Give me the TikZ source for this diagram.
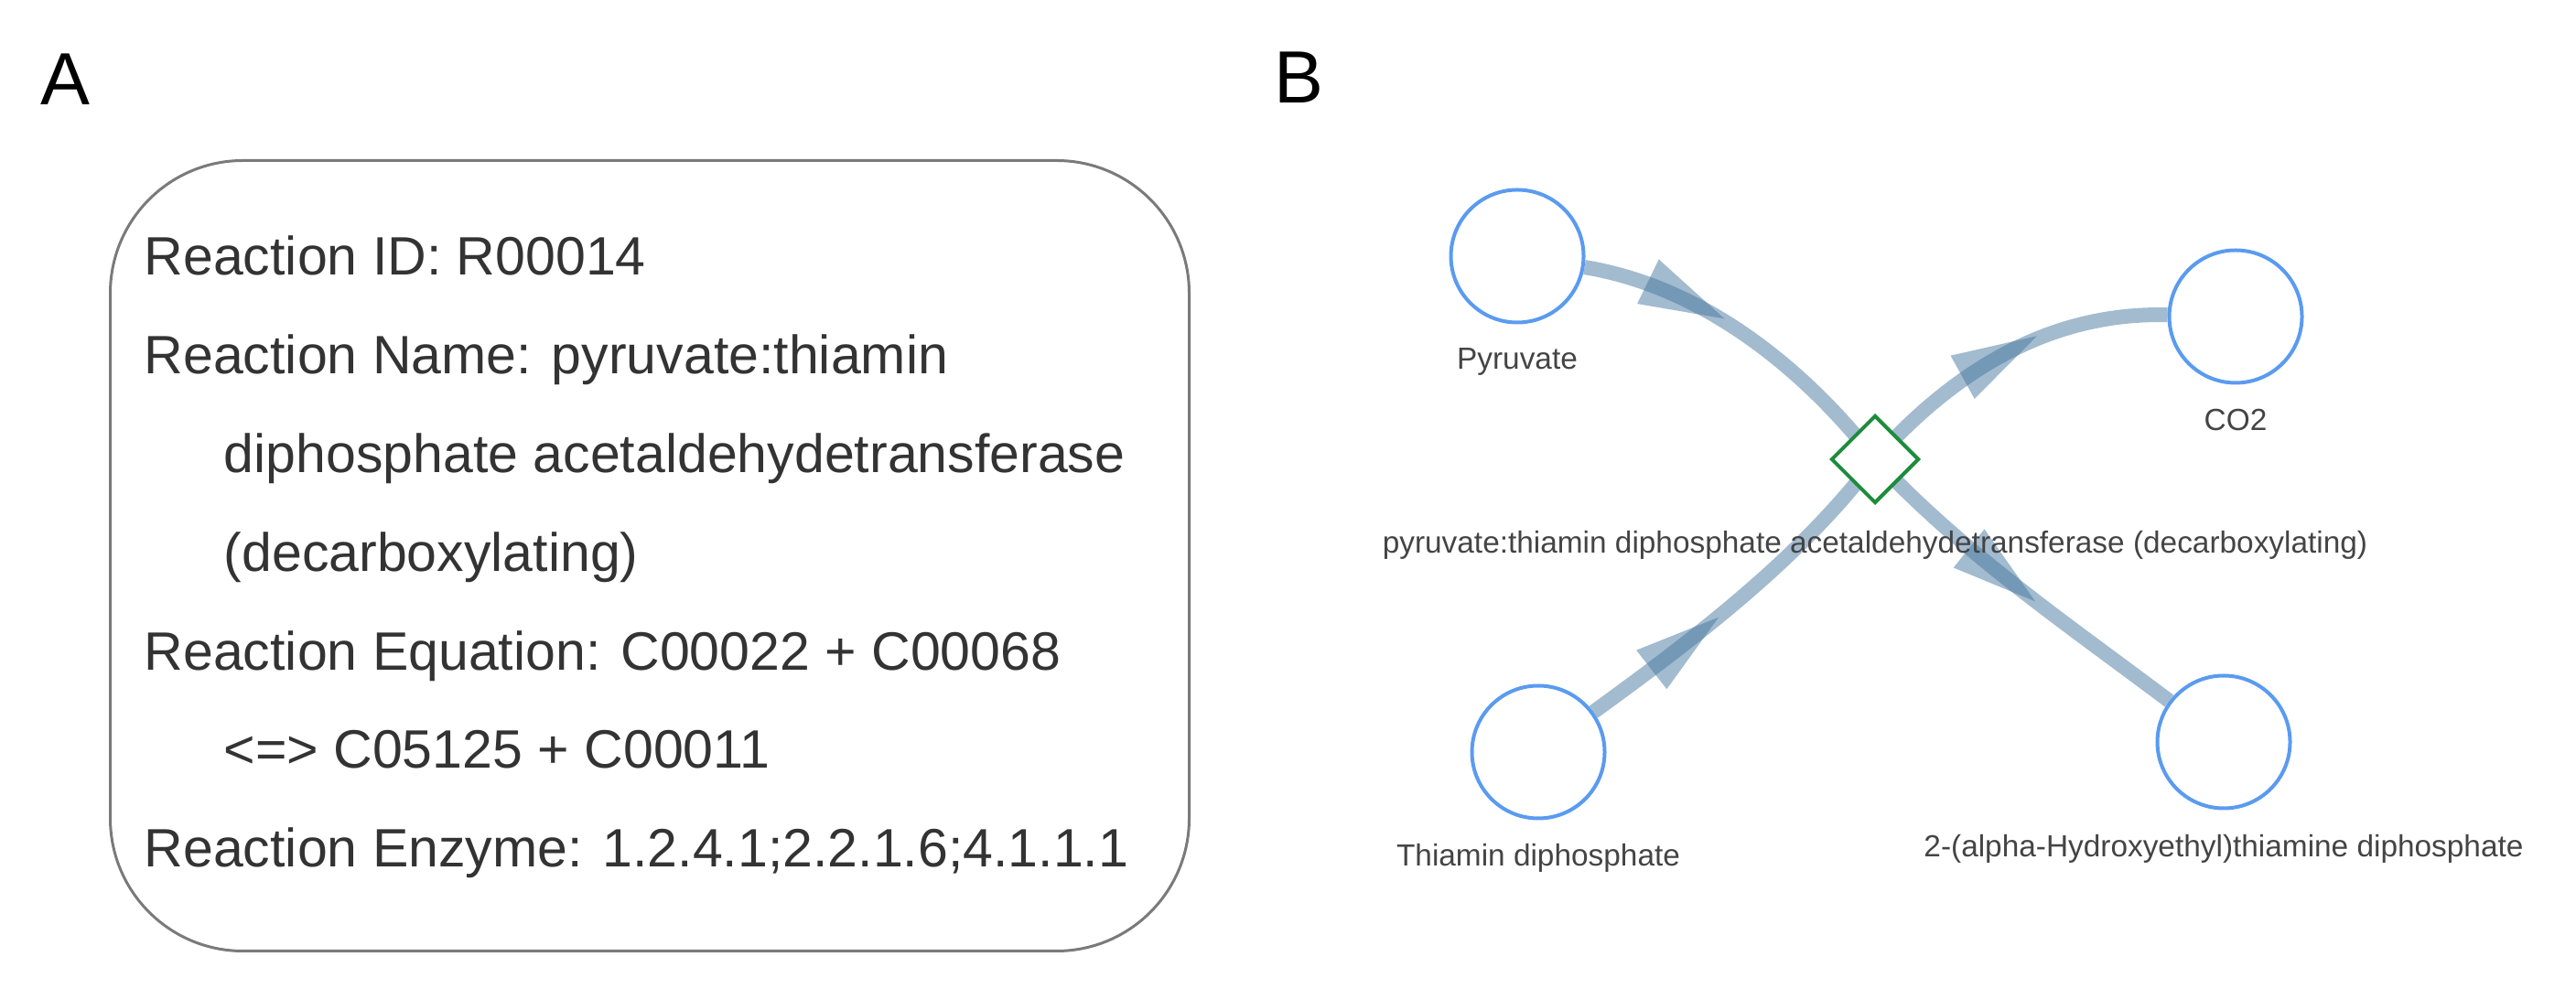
\documentclass[tikz,border=0pt]{standalone}
\usepackage{fontspec}
\setmainfont{Liberation Sans}
\usetikzlibrary{shapes.geometric,decorations.markings,backgrounds}

\definecolor{boxgray}{HTML}{7A7A7A}
\definecolor{txtgray}{HTML}{333333}
\definecolor{lblgray}{HTML}{444444}
\definecolor{cpdblue}{HTML}{5A9BF0}
\definecolor{rxngreen}{HTML}{1E8C3C}
\definecolor{fluxblue}{HTML}{47779F}

\tikzset{
  panel/.style={font=\fontsize{23}{28}\selectfont, anchor=base west, inner sep=0pt},
  infobox/.style={draw=boxgray, line width=0.03cm, rounded corners=1.45cm},
  infotext/.style={font=\fontsize{16.8}{20}\selectfont, text=txtgray, anchor=base west, inner sep=0pt},
  compound/.style={draw=cpdblue, line width=0.04cm, circle, minimum size=1.45cm, inner sep=0pt},
  reaction/.style={draw=rxngreen, line width=0.04cm, diamond, fill=white, minimum size=0.96cm, inner sep=0pt},
  lbl/.style={font=\fontsize{9.5}{11}\selectfont, text=lblgray, anchor=base, inner sep=0pt},
  flux/.style={draw=fluxblue, draw opacity=0.5, line width=0.16cm},
  fluxarrow/.style={postaction={decorate}, decoration={markings,
      mark=at position #1 with {\fill[fluxblue, fill opacity=0.5] (0.47,0) -- (-0.46,0.27) -- (-0.46,-0.27) -- cycle;}}}
}

\begin{document}
\begin{tikzpicture}
\useasboundingbox (0,0) rectangle (28.15,-10.81);

% panel letters
\node[panel] (pa) at (0.44,-1.15) {A};
\node[panel] (pb) at (13.92,-1.13) {B};

% A: reaction record
\draw[infobox] (1.205,-1.755) rectangle (12.995,-10.395);
\foreach \ind/\txt [count=\i] in {0/{Reaction ID: R00014},
    0/{Reaction Name: pyruvate:thiamin},
    1/{diphosphate acetaldehydetransferase},
    1/{(decarboxylating)},
    0/{Reaction Equation: C00022 + C00068},
    1/{<=> C05125 + C00011},
    0/{Reaction Enzyme: 1.2.4.1;2.2.1.6;4.1.1.1}}
  \node[infotext] (info\i) at ({1.57+0.87*\ind},{-3.01-1.078*(\i-1)}) {\txt};

% B: reaction graph
\node[compound] (pyr) at (16.58,-2.80) {};
\node[compound] (co2) at (24.43,-3.46) {};
\node[compound] (thd) at (16.81,-8.22) {};
\node[compound] (htd) at (24.30,-8.11) {};
\node[reaction] (rxn) at (20.49,-5.02) {};

\node[lbl] (pyrlbl) at ([yshift=-1.24cm]pyr.center) {Pyruvate};
\node[lbl] (co2lbl) at ([yshift=-1.25cm]co2.center) {CO2};
\node[lbl] (thdlbl) at ([yshift=-1.25cm]thd.center) {Thiamin diphosphate};
\node[lbl] (htdlbl) at ([yshift=-1.26cm]htd.center) {2-(alpha-Hydroxyethyl)thiamine diphosphate};
\node[lbl] (rxnlbl) at ([yshift=-1.03cm]rxn.center) {pyruvate:thiamin diphosphate acetaldehydetransferase (decarboxylating)};

% fluxes, behind the nodes
\begin{scope}[on background layer]
  \draw[flux, fluxarrow=0.3] (pyr) .. controls (18.59,-3.13) and (19.69,-4.00) .. (rxn.center);
  \draw[flux, fluxarrow=0.3] (thd) .. controls (18.49,-7.00) and (19.68,-6.10) .. (rxn.center);
  \draw[flux, fluxarrow=0.48] (rxn.center) .. controls (21.36,-4.05) and (22.40,-3.41) .. (co2);
  \draw[flux, fluxarrow=0.45] (rxn.center) .. controls (21.44,-6.04) and (22.60,-6.83) .. (htd);
\end{scope}
\end{tikzpicture}
\end{document}
